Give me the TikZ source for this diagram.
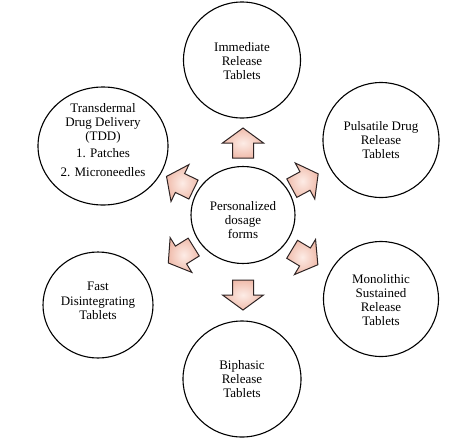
\documentclass[tikz,border=0pt]{standalone}
\usepackage{fontspec}
\setmainfont{Liberation Serif}
\usetikzlibrary{shapes.geometric}
\definecolor{arrfill}{RGB}{240,188,172}
\definecolor{arrlight}{RGB}{253,236,230}
\definecolor{arrline}{RGB}{45,35,35}
\begin{document}
\begin{tikzpicture}[x=1pt,y=-1pt,
  bub/.style={ellipse, draw=black, line width=1.1pt, inner sep=0pt},
  lbl/.style={align=center, font=\fontsize{13}{14.2}\selectfont, inner sep=0pt},
  barrow/.pic={\shadedraw[inner color=arrlight, outer color=arrfill, draw=arrline, line width=1pt, line join=miter]
     (-15,-10.5) -- (0,-10.5) -- (0,-20.5) -- (15,0) -- (0,20.5) -- (0,10.5) -- (-15,10.5) -- cycle;}]
\useasboundingbox (0,0) rectangle (474,440);
% bubbles
\node[bub, minimum width=104pt, minimum height=97pt] (c) at (243,215) {};
\node[bub, minimum width=117pt, minimum height=116pt] (t) at (242,60) {};
\node[bub, minimum width=116pt, minimum height=115pt] (ur) at (381,140) {};
\node[bub, minimum width=115pt, minimum height=115pt] (lr) at (381,299) {};
\node[bub, minimum width=118pt, minimum height=116pt] (b) at (242,379) {};
\node[bub, minimum width=110pt, minimum height=106pt] (ll) at (98,305) {};
\node[bub, minimum width=130pt, minimum height=118pt] (ul) at (103,146) {};
% labels
\node[lbl] (ct) at (243,220) {Personalized\\dosage\\forms};
\node[lbl] (tt) at (242,61) {Immediate\\Release\\Tablets};
\node[lbl] (urt) at (381,140) {Pulsatile Drug\\Release\\Tablets};
\node[lbl] (lrt) at (381,300) {Monolithic\\Sustained\\Release\\Tablets};
\node[lbl] (bt) at (242,379) {Biphasic\\Release\\Tablets};
\node[lbl] (llt) at (98,301) {Fast\\Disintegrating\\Tablets};
\node[lbl] (ult) at (103,140) {Transdermal\\Drug Delivery\\(TDD)\\[3pt]1. Patches\\[5pt]2. Microneedles};
% block arrows
\pic[rotate=90] at (243,143) {barrow};
\pic[rotate=-90] at (243,295) {barrow};
\pic[rotate=28.5] at (305,181) {barrow};
\pic[rotate=154] at (180,183) {barrow};
\pic[rotate=-31] at (305,257) {barrow};
\pic[rotate=-148] at (181,255) {barrow};
\end{tikzpicture}
\end{document}
